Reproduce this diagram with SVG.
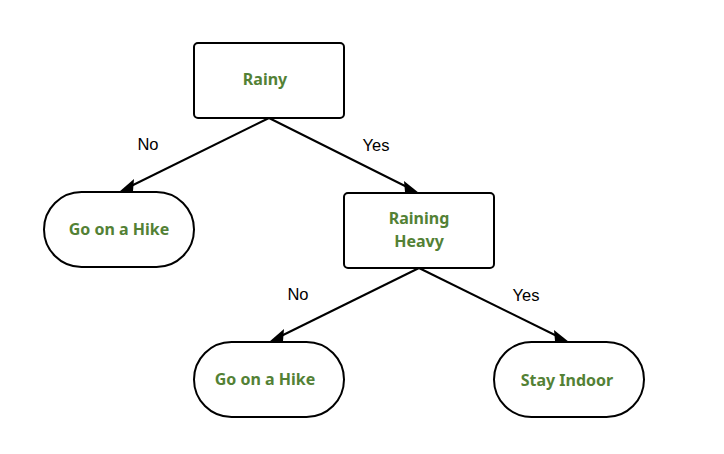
<svg xmlns="http://www.w3.org/2000/svg" width="724" height="454" viewBox="0 0 724 454">
<style>
.box{fill:#fff;stroke:#000;stroke-width:2}
.t{font-family:"Noto Sans","Open Sans",sans-serif;font-weight:bold;font-size:16px;fill:#538135;text-anchor:middle}
.lbl{font-family:"Liberation Sans",Arial,sans-serif;font-size:16.5px;fill:#000;text-anchor:middle}
.c{stroke:#000;stroke-width:2;fill:none}
.ah{fill:#000}
</style>
<rect width="724" height="454" fill="#fff"/>
<g id="connectors">
<line class="c" x1="269" y1="118" x2="125" y2="189"/>
<path class="ah" d="M119,192 L134,179 L133,191 z"/>
<line class="c" x1="269" y1="118" x2="413" y2="190"/>
<path class="ah" d="M419,193 L405,192 L404,181 z"/>
<line class="c" x1="419" y1="268" x2="275" y2="339"/>
<path class="ah" d="M269,342 L284,329 L283,341 z"/>
<line class="c" x1="419" y1="268" x2="563" y2="339"/>
<path class="ah" d="M569,342 L555,341 L554,330 z"/>
<text class="lbl" x="148" y="150">No</text>
<text class="lbl" x="376" y="151">Yes</text>
<text class="lbl" x="298" y="300">No</text>
<text class="lbl" x="526" y="301">Yes</text>
</g>
<g id="rainy">
<rect class="box" x="194" y="43" width="150" height="75" rx="4"/>
<text class="t" x="265" y="85">Rainy</text>
</g>
<g id="hike1">
<rect class="box" x="44" y="192" width="150" height="75" rx="37.5"/>
<text class="t" x="119" y="235">Go on a Hike</text>
</g>
<g id="heavy">
<rect class="box" x="344" y="193" width="150" height="75" rx="4"/>
<text class="t" x="419" y="224">Raining</text>
<text class="t" x="419" y="247">Heavy</text>
</g>
<g id="hike2">
<rect class="box" x="194" y="342" width="150" height="75" rx="37.5"/>
<text class="t" x="265" y="385">Go on a Hike</text>
</g>
<g id="indoor">
<rect class="box" x="494" y="342" width="150" height="75" rx="37.5"/>
<text class="t" x="567" y="386">Stay Indoor</text>
</g>
</svg>
